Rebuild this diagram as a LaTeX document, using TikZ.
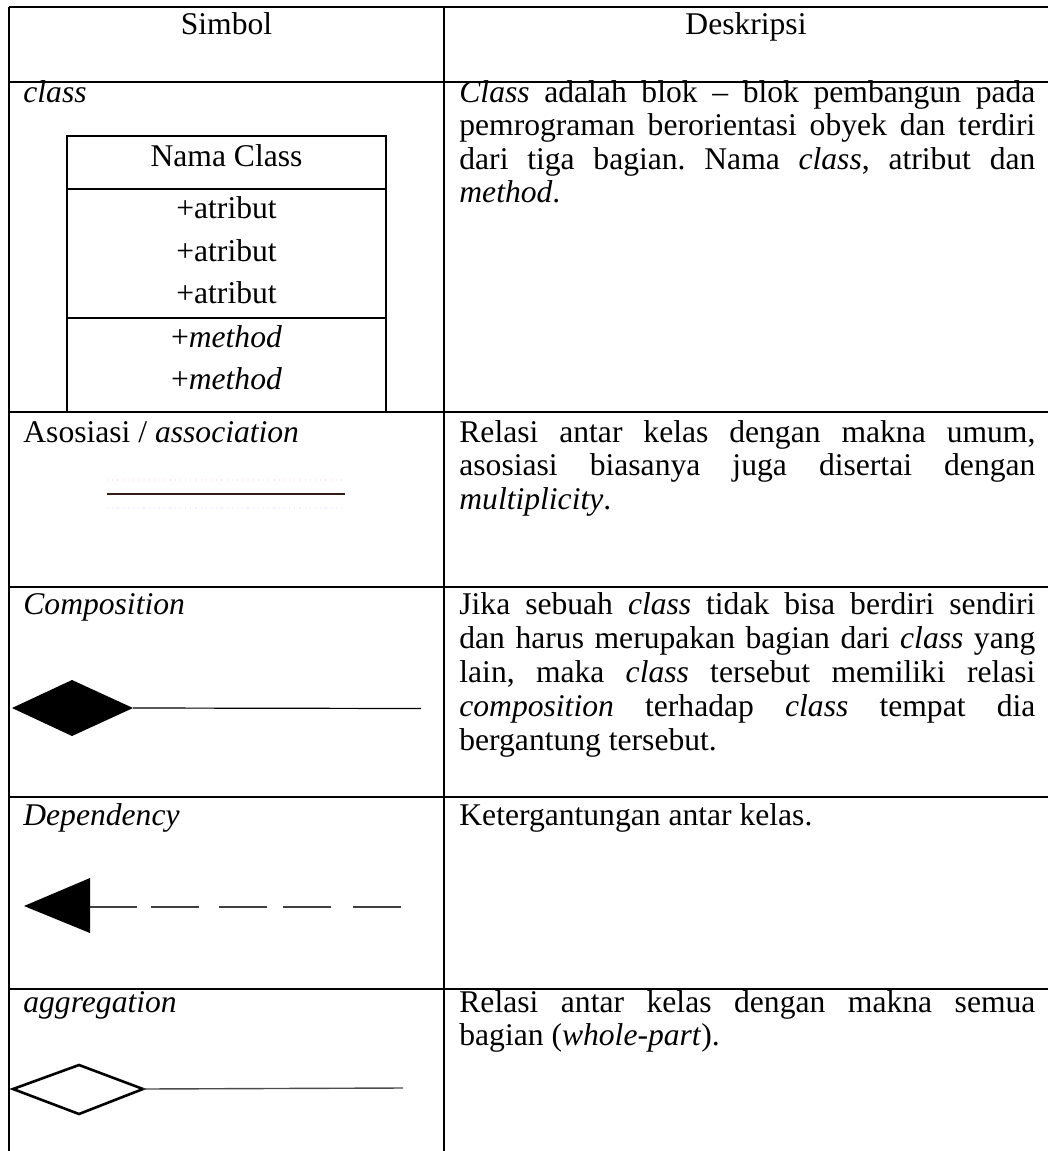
\documentclass[tikz,border=0pt]{standalone}
\usepackage{fontspec}
\setmainfont{Liberation Serif}
\definecolor{assocline}{RGB}{55,25,25}
\frenchspacing
% one fully justified line of the description column
\newcommand{\justline}[1]{\makebox[288pt][s]{#1}}
\begin{document}
\begin{tikzpicture}[x=0.5pt,y=-0.5pt,
  rule/.style={line width=1pt,black},
  txt/.style={anchor=base west,inner sep=0pt,font=\fontsize{15.8}{19}\selectfont},
  ctr/.style={anchor=base,inner sep=0pt,font=\fontsize{15.8}{19}\selectfont},
  boxline/.style={line width=0.9pt,black},
  thinline/.style={line width=0.6pt,black}]
\useasboundingbox (0,0) rectangle (1048,1151);
\fill[white] (0,0) rectangle (1048,1151);

% ---- table grid ----
\foreach \yy in {7,82,412,587,797,989}
  \draw[rule] (8.5,\yy) -- (1049,\yy);
\draw[rule] (9,6.5) -- (9,1152);
\draw[rule] (444,6.5) -- (444,1152);

% ---- header ----
\node[ctr] (hSim) at (226.5,34) {Simbol};
\node[ctr] (hDes) at (746,34) {Deskripsi};

% ---- class ----
\node[txt] (lClass) at (23,102) {\textit{class}};
\coordinate (cbTL) at (67,136);
\coordinate (cbBR) at (386,412);
\draw[boxline] (cbTL) rectangle (cbBR);
\draw[boxline] (67,189) -- (386,189);
\draw[boxline] (67,318) -- (386,318);
\node[ctr] (cName) at (226.5,166) {Nama Class};
\node[ctr] (cA1) at (226.5,218) {+atribut};
\node[ctr] (cA2) at (226.5,261) {+atribut};
\node[ctr] (cA3) at (226.5,303) {+atribut};
\node[ctr] (cM1) at (226.5,347) {+\textit{method}};
\node[ctr] (cM2) at (226.5,389) {+\textit{method}};

\node[txt] (dC1) at (459,102) {\justline{\textit{Class} adalah blok -- blok pembangun pada}};
\node[txt] (dC2) at (459,135.5) {\justline{pemrograman berorientasi obyek dan terdiri}};
\node[txt] (dC3) at (459,169) {\justline{dari tiga bagian. Nama \textit{class}, atribut dan}};
\node[txt] (dC4) at (459,202.5) {\textit{method}.};

% ---- association ----
\node[txt] (lAsso) at (23,442) {Asosiasi / \textit{association}};
\coordinate (asL) at (107,494);
\coordinate (asR) at (345,494);
\draw[red!7,line width=0.6pt,dotted] (107,480) -- (345,480);
\draw[blue!6,line width=0.6pt,dotted] (107,508) -- (345,508);
\draw[line width=1pt,assocline] (asL) -- (asR);

\node[txt] (dA1) at (459,442) {\justline{Relasi antar kelas dengan makna umum,}};
\node[txt] (dA2) at (459,475.5) {\justline{asosiasi biasanya juga disertai dengan}};
\node[txt] (dA3) at (459,509) {\textit{multiplicity}.};

% ---- composition ----
\node[txt] (lComp) at (23,614) {\textit{Composition}};
\coordinate (cdL) at (12,708);
\coordinate (cdT) at (72,680);
\coordinate (cdR) at (133,708);
\coordinate (cdB) at (72,736);
\coordinate (cEnd) at (421,708.5);
\fill[black] (cdL) -- (cdT) -- (cdR) -- (cdB) -- cycle;
\draw[thinline] (cdR) -- (cEnd);

\node[txt] (dK1) at (459,614) {\justline{Jika sebuah \textit{class} tidak bisa berdiri sendiri}};
\node[txt] (dK2) at (459,648) {\justline{dan harus merupakan bagian dari \textit{class} yang}};
\node[txt] (dK3) at (459,682) {\justline{lain, maka \textit{class} tersebut memiliki relasi}};
\node[txt] (dK4) at (459,716) {\justline{\textit{composition} terhadap \textit{class} tempat dia}};
\node[txt] (dK5) at (459,750) {bergantung tersebut.};

% ---- dependency ----
\node[txt] (lDep) at (23,825) {\textit{Dependency}};
\coordinate (dTip) at (24,906);
\coordinate (dTop) at (90,878);
\coordinate (dBot) at (90,933);
\fill[black] (dTip) -- (dTop) -- (dBot) -- cycle;
\foreach \a/\b in {90/137,151/199,219/267,283/331,353/401}
  \draw[line width=0.6pt,black!75] (\a,907) -- (\b,907);

\node[txt] (dD1) at (459,825) {Ketergantungan antar kelas.};

% ---- aggregation ----
\node[txt] (lAgg) at (23,1012) {\textit{aggregation}};
\coordinate (gdL) at (13,1089);
\coordinate (gdT) at (79,1065);
\coordinate (gdR) at (143,1089);
\coordinate (gdB) at (79,1114);
\coordinate (gEnd) at (403,1088);
\draw[line width=1.3pt,line join=miter] (gdL) -- (gdT) -- (gdR) -- (gdB) -- cycle;
\draw[line width=0.7pt,black!70] (gdR) -- (gEnd);

\node[txt] (dG1) at (459,1012) {\justline{Relasi antar kelas dengan makna semua}};
\node[txt] (dG2) at (459,1045.5) {bagian (\textit{whole-part}).};
\end{tikzpicture}
\end{document}
